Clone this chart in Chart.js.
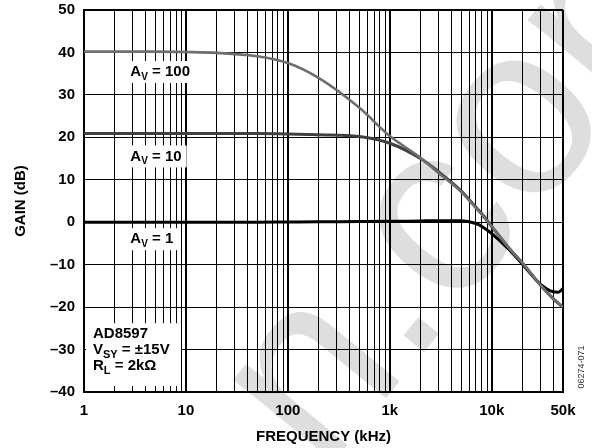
<!DOCTYPE html>
<html><head><meta charset="utf-8">
<script src="https://cdn.jsdelivr.net/npm/chart.js@4/dist/chart.umd.min.js"></script>
<style>html,body{margin:0;padding:0;background:#fff}#wrap{width:592px;height:448px}</style>
</head><body><div id="wrap"><canvas id="c" width="592" height="448"></canvas></div>
<script>
// ---- data ----
const freqKHz   = [1, 2, 5, 10, 20, 50, 100, 200, 500, 1000, 2000, 3000, 5000, 7000, 8000, 10000, 15000, 20000, 30000, 40000, 45000, 50000];
const gainAv100 = [40.2, 40.2, 40.2, 40.1, 39.9, 39.1, 37.5, 34.0, 27.0, 20.3, 15.2, 11.6, 7.2, 3.3, 1.8, -1.0, -6.3, -9.6, -14.8, -18.0, -19.1, -20.0];
const gainAv10  = [20.9, 20.9, 20.9, 20.9, 20.9, 20.9, 20.8, 20.6, 20.2, 18.6, 15.0, 11.9, 7.4, 3.5, 2.0, -1.0, -6.3, -9.6, -14.8, -18.0, -19.1, -20.0];
const gainAv1   = [0, 0, 0, 0, 0, 0, 0.05, 0.1, 0.15, 0.2, 0.3, 0.35, 0.35, -0.3, -1.0, -2.7, -6.6, -9.9, -14.6, -16.4, -16.5, -15.6];
const xTickValues = [1,2,3,4,5,6,7,8,9,10,20,30,40,50,60,70,80,90,100,200,300,400,500,600,700,800,900,1000,2000,3000,4000,5000,6000,7000,8000,9000,10000,20000,30000,40000,50000];
const xTickLabels = {1:'1', 10:'10', 100:'100', 1000:'1k', 10000:'10k', 50000:'50k'};
const yTickValues = [-40,-30,-20,-10,0,10,20,30,40,50];
const seriesNames = ['AV = 100', 'AV = 10', 'AV = 1'];
// label anchors (frequency, gain) for in-plot curve labels
const curveLabels = [
  {main:'A', sub:'V', rest:' = 100', f:2.85, g:35.4},
  {main:'A', sub:'V', rest:' = 10',  f:2.85, g:15.5},
  {main:'A', sub:'V', rest:' = 1',   f:2.85, g:-4.0}
];
const noteLines = [
  [{t:'AD8597'}],
  [{t:'V'},{t:'SY',sub:true},{t:' = ±15V'}],
  [{t:'R'},{t:'L',sub:true},{t:' = 2kΩ'}]
];

const FONT = "'Liberation Sans', Arial, Helvetica, sans-serif";
const decades = [1,10,100,1000,10000];

const decor = {
  id:'decor',
  beforeDraw(chart){
    const c = chart.ctx;
    c.save();
    c.fillStyle='#fff'; c.fillRect(0,0,chart.width,chart.height);
    // faint background watermark
    c.translate(323,475); c.rotate(-50.7*Math.PI/180);
    c.font = "246px " + FONT; c.fillStyle = '#dedede';
    c.textBaseline='alphabetic'; c.textAlign='left';
    c.fillText('n.com', 0, 0);
    c.restore();
  },
  beforeDatasetsDraw(chart){
    const c = chart.ctx, xs = chart.scales.x, ys = chart.scales.y;
    c.save();
    c.textBaseline='middle'; c.textAlign='left';
    curveLabels.forEach(l=>{
      const x = xs.getPixelForValue(l.f), y = ys.getPixelForValue(l.g);
      c.font = "bold 15px " + FONT; const w1 = c.measureText(l.main).width;
      const w3 = c.measureText(l.rest).width;
      c.font = "bold 10px " + FONT; const w2 = c.measureText(l.sub).width;
      c.fillStyle='#fff'; c.fillRect(x-5, y-11, w1+w2+w3+10, 22);
      c.fillStyle='#000';
      c.font = "bold 15px " + FONT; c.fillText(l.main, x, y);
      c.font = "bold 10px " + FONT; c.fillText(l.sub, x+w1, y+5);
      c.font = "bold 15px " + FONT; c.fillText(l.rest, x+w1+w2, y);
    });
    // note box bottom-left
    const bx = xs.left+2, by = ys.getPixelForValue(-23.8);
    c.fillStyle='#fff'; c.fillRect(bx, by, 95, ys.bottom-6-by);
    c.fillStyle='#000';
    noteLines.forEach((line,i)=>{
      let x = 93, y = by+11+i*16;
      line.forEach(p=>{
        c.font = (p.sub? "bold 11px ":"bold 15px ") + FONT;
        c.fillText(p.t, x, p.sub? y+5 : y);
        x += c.measureText(p.t).width;
      });
    });
    c.restore();
  },
  afterDraw(chart){
    const c = chart.ctx;
    c.save();
    c.translate(582, 367); c.rotate(-Math.PI/2);
    c.font = "9px " + FONT; c.fillStyle='#333'; c.textAlign='center'; c.textBaseline='middle';
    c.fillText('06274-071', 0, 0);
    c.restore();
  }
};

new Chart(document.getElementById('c'), {
  type:'line',
  data:{
    labels: freqKHz,
    datasets:[
      {label:seriesNames[0], data:freqKHz.map((f,i)=>({x:f,y:gainAv100[i]})), borderColor:'#6e6e6e', borderWidth:2.6, pointRadius:0, cubicInterpolationMode:'monotone', fill:false},
      {label:seriesNames[1], data:freqKHz.map((f,i)=>({x:f,y:gainAv10[i]})), borderColor:'#404040', borderWidth:3, pointRadius:0, cubicInterpolationMode:'monotone', fill:false},
      {label:seriesNames[2], data:freqKHz.map((f,i)=>({x:f,y:gainAv1[i]})), borderColor:'#000000', borderWidth:3, pointRadius:0, cubicInterpolationMode:'monotone', fill:false}
    ]
  },
  options:{
    responsive:false, animation:false, devicePixelRatio:1,
    layout:{padding:{top:10, right:29, left:0, bottom:0}},
    plugins:{legend:{display:false}, tooltip:{enabled:false}},
    scales:{
      x:{
        type:'logarithmic', min:1, max:50000,
        afterBuildTicks: s => { s.ticks = xTickValues.map(v=>({value:v})); },
        afterFit: s => { s.height = 56; s.paddingLeft = 0; s.paddingRight = 0; },
        ticks:{autoSkip:false, maxRotation:0, minRotation:0, padding:10, color:'#000',
          font:{family:FONT, size:15, weight:'bold'},
          callback:(v)=> xTickLabels[v] !== undefined ? xTickLabels[v] : ''},
        grid:{color:'#000', drawTicks:false, lineWidth: ctx => (ctx.tick && (decades.includes(ctx.tick.value) || ctx.tick.value===50000)) ? 2 : 1},
        border:{display:true, color:'#000', width:2},
        title:{display:true, text:'FREQUENCY (kHz)', color:'#000', font:{family:FONT, size:15, weight:'bold'}, padding:{top:0,bottom:2}}
      },
      y:{
        type:'linear', min:-40, max:50,
        afterBuildTicks: s => { s.ticks = yTickValues.map(v=>({value:v})); },
        afterFit: s => { s.width = 84; s.paddingTop = 0; s.paddingBottom = 0; },
        ticks:{padding:9, color:'#000', font:{family:FONT, size:15, weight:'bold'},
          callback:(v)=> v<0 ? '–'+Math.abs(v) : String(v)},
        grid:{color:'#000', drawTicks:false, lineWidth: ctx => (ctx.tick && ctx.tick.value===50) ? 2 : 1},
        border:{display:true, color:'#000', width:2},
        title:{display:true, text:'GAIN (dB)', color:'#000', font:{family:FONT, size:15, weight:'bold'}, padding:{top:12,bottom:0}}
      }
    }
  },
  plugins:[decor]
});
</script>
</body></html>
